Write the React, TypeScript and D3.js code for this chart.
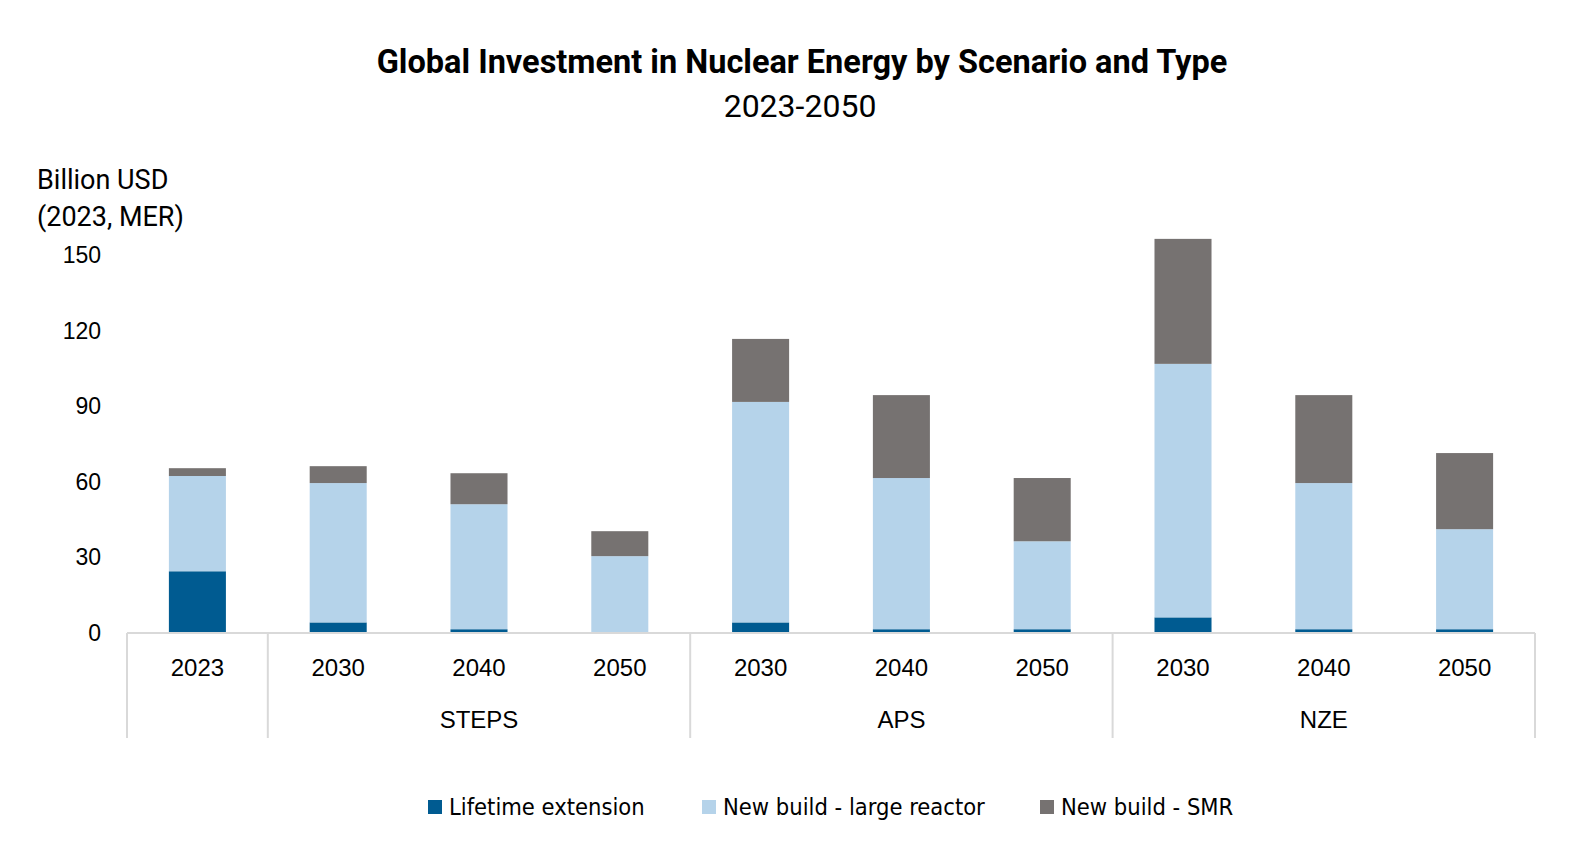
import React from "react";
import * as d3 from "d3";

// years along the axis, with the scenario that owns each one
const years = ["2023", "2030", "2040", "2050", "2030", "2040", "2050", "2030", "2040", "2050"];
const groupNames = ["", "STEPS", "APS", "NZE"];
const groupSizes = [1, 3, 3, 3];

// Billion USD (2023, MER)
const lifetimeExtension = [24.5, 4.2, 1.5, 0.4, 4.2, 1.5, 1.5, 6.2, 1.5, 1.5];
const largeReactor = [37.8, 55.3, 49.6, 30.1, 87.5, 60.0, 34.9, 100.6, 58.0, 39.7];
const smr = [3.1, 6.7, 12.3, 9.9, 25.0, 32.9, 25.1, 49.6, 34.9, 30.2];

const yTicks = [0, 30, 60, 90, 120, 150];

const seriesKeys = ["lifetime", "large", "smr"];
const seriesLabels = ["Lifetime extension", "New build - large reactor", "New build - SMR"];
const seriesColors = ["#005B91", "#B5D3EA", "#767271"];

const W = 1585;
const H = 865;
const plot = { left: 127, right: 1535, top: 255, bottom: 633 };
const lineColor = "#D9D9D9";
const tickFont = "'Liberation Sans', Arial, sans-serif";
const titleFont = "Roboto, 'Noto Sans', sans-serif";
const legendFont = "'Liberation Sans Narrow', 'DejaVu Sans Condensed', sans-serif";

export default function App() {
  const rows = years.map((y, i) => ({
    idx: String(i),
    lifetime: lifetimeExtension[i],
    large: largeReactor[i],
    smr: smr[i],
  }));

  const x = d3
    .scaleBand<string>()
    .domain(rows.map((r) => r.idx))
    .range([plot.left, plot.right])
    .paddingInner(0.595)
    .paddingOuter(0.2975);

  const y = d3.scaleLinear().domain([0, 150]).range([plot.bottom, plot.top]);

  const stacked = d3.stack<any>().keys(seriesKeys)(rows);

  // separators between scenario groups
  const step = x.step();
  const bounds: number[] = [plot.left];
  let acc = 0;
  groupSizes.forEach((s) => {
    acc += s;
    bounds.push(plot.left + acc * step);
  });

  const legendX = [428, 702, 1040];

  return (
    <svg
      width={W}
      height={H}
      style={{ position: "absolute", left: 0, top: 0, background: "#fff" }}
    >
      <text
        x={802}
        y={73}
        textAnchor="middle"
        fontFamily={titleFont}
        fontWeight={700}
        fontSize={32.5}
        fill="#000"
      >
        Global Investment in Nuclear Energy by Scenario and Type
      </text>
      <text x={800} y={117} textAnchor="middle" fontFamily={titleFont} fontSize={32} fill="#000">
        2023-2050
      </text>

      <text x={37} y={189} fontFamily={titleFont} fontSize={27} fill="#000">
        Billion USD
      </text>
      <text x={37} y={226} fontFamily={titleFont} fontSize={27} fill="#000">
        (2023, MER)
      </text>

      {yTicks.map((t) => (
        <text
          key={t}
          x={101}
          y={y(t)}
          dy="0.35em"
          textAnchor="end"
          fontFamily={tickFont}
          fontSize={23}
          fill="#000"
        >
          {t}
        </text>
      ))}

      {stacked.map((layer, si) => (
        <g key={layer.key} fill={seriesColors[si]}>
          {layer.map((d, i) => (
            <rect
              key={i}
              x={x(rows[i].idx)}
              y={y(d[1])}
              width={x.bandwidth()}
              height={Math.max(0, y(d[0]) - y(d[1]))}
            />
          ))}
        </g>
      ))}

      <line x1={plot.left} x2={plot.right} y1={plot.bottom} y2={plot.bottom} stroke={lineColor} strokeWidth={2} />
      {bounds.map((b, i) => (
        <line key={i} x1={b} x2={b} y1={plot.bottom} y2={738} stroke={lineColor} strokeWidth={2} />
      ))}

      {years.map((yr, i) => (
        <text
          key={i}
          x={(x(String(i)) as number) + x.bandwidth() / 2}
          y={676}
          textAnchor="middle"
          fontFamily={tickFont}
          fontSize={24}
          fill="#000"
        >
          {yr}
        </text>
      ))}

      {groupNames.map((g, i) =>
        g ? (
          <text
            key={g}
            x={(bounds[i] + bounds[i + 1]) / 2}
            y={728}
            textAnchor="middle"
            fontFamily={tickFont}
            fontSize={24}
            fill="#000"
          >
            {g}
          </text>
        ) : null
      )}

      {seriesLabels.map((lab, i) => (
        <g key={lab} transform={`translate(${legendX[i]},807)`}>
          <rect x={0} y={-7} width={14} height={14} fill={seriesColors[i]} />
          <text x={21} y={0} dy="0.36em" fontFamily={legendFont} fontSize={23.5} fill="#000">
            {lab}
          </text>
        </g>
      ))}
    </svg>
  );
}
